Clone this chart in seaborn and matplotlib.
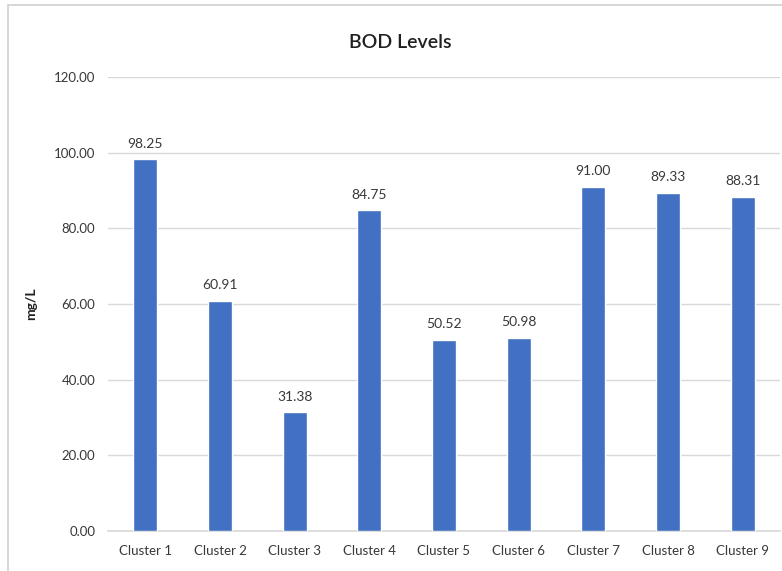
import matplotlib
matplotlib.use("Agg")
import matplotlib.pyplot as plt
from matplotlib.ticker import StrMethodFormatter, MultipleLocator
from matplotlib.patches import Rectangle
import seaborn as sns
import pandas as pd

clusters = ["Cluster 1", "Cluster 2", "Cluster 3", "Cluster 4", "Cluster 5",
            "Cluster 6", "Cluster 7", "Cluster 8", "Cluster 9"]
bod_mg_l = [98.25, 60.91, 31.38, 84.75, 50.52, 50.98, 91.00, 89.33, 88.31]

df = pd.DataFrame({"Cluster": clusters, "BOD": bod_mg_l})

sns.set_theme(style="white")
plt.rcParams["font.family"] = ["Lato", "DejaVu Sans"]

fig = plt.figure(figsize=(7.82, 5.71), dpi=100)
fig.patch.set_facecolor("white")
# chart frame
fig.add_artist(Rectangle((8 / 782, -0.01), 1.0, (571 - 5) / 571 + 0.01,
                         transform=fig.transFigure, fill=False,
                         edgecolor="#d0d0d0", linewidth=1.2))

ax = fig.add_axes([108 / 782, 40 / 571, (780 - 108) / 782, (531 - 77) / 571])
sns.barplot(data=df, x="Cluster", y="BOD", color="#4270C2", width=0.32,
            saturation=1, ax=ax, zorder=3)

ax.set_ylim(0, 120)
ax.yaxis.set_major_locator(MultipleLocator(20))
ax.yaxis.set_major_formatter(StrMethodFormatter("{x:.2f}"))
ax.grid(axis="y", color="#d9d9d9", linewidth=1, zorder=0)
ax.set_axisbelow(True)
for side in ["left", "right", "top"]:
    ax.spines[side].set_visible(False)
ax.spines["bottom"].set_color("#d9d9d9")
ax.tick_params(axis="both", length=0, labelsize=9.5, colors="#383838")
ax.tick_params(axis="y", pad=9)
ax.tick_params(axis="x", pad=10)
ax.set_xlabel("")
ax.set_ylabel("mg/L", fontsize=10, fontweight="bold", color="#202020", labelpad=12)

for c in ax.containers:
    ax.bar_label(c, fmt="%.2f", padding=7, fontsize=10, color="#383838")

fig.text(400 / 782, 1 - 42 / 571, "BOD Levels", ha="center", va="center",
         fontsize=14, fontweight="semibold", color="#202020")

fig.savefig("out.png", dpi=100)
